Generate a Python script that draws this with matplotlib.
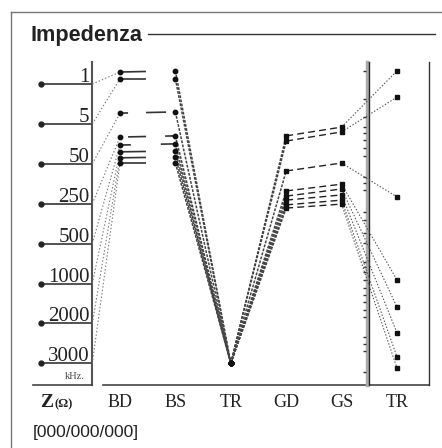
import matplotlib
matplotlib.use('Agg')
import matplotlib.pyplot as plt

plt.rcParams['lines.scale_dashes'] = False

# ---- data (rows: frequency levels; values in "level" units, 0 = "1", 7 = "3000") ----
freq_labels = ["1", "5", "50", "250", "500", "1000", "2000", "3000"]
col_labels = ["BD", "BS", "TR", "GD", "GS", "TR"]
bd = [-0.30, -0.13, 0.73, 1.33, 1.53, 1.70, 1.85, 1.98]
bs = [-0.33, -0.13, 0.70, 1.30, 1.50, 1.68, 1.83, 1.98]
tr = [7.0, 7.0, 7.0, 7.0, 7.0, 7.0, 7.0, 7.0]
gd = [1.30, 1.43, 2.18, 2.68, 2.81, 2.91, 3.03, 3.11]
gs = [1.08, 1.20, 1.98, 2.51, 2.63, 2.78, 2.91, 3.01]
tr2 = [-0.33, 0.33, 2.83, 4.91, 5.59, 6.24, 6.84, 7.12]
right_ticks = [-0.33, 0.38, 0.83, 1.08, 1.23, 1.40, 1.60, 1.80, 2.33, 2.48, 2.66,
               3.21, 3.41, 3.73, 3.98, 4.46, 4.59, 4.71, 4.91, 5.11, 5.29, 5.46,
               5.66, 5.84, 6.34, 6.52, 6.69, 7.22]

# ---- styles ----
bdbs_styles = [(0, (18.7, 20)), (0, (18.7, 20)), (8.6, (14.4, 13)), (20.9, (13, 13.7)),
               (2.2, (10, 21.6)), (0, (18.7, 20)), (0, (18.7, 20)), (0, (18.7, 20))]
SERIF = 'Liberation Serif'
SANS = 'Liberation Sans'

W, H = 442, 448
fig = plt.figure(figsize=(W / 100, H / 100), dpi=100)
ax = fig.add_axes([0, 0, 1, 1])
X0, DX = 120.0, 55.4
Y0, DY = 84.0, 39.9
ax.set_xlim(-X0 / DX, (W - X0) / DX)
ax.set_ylim((H - Y0) / DY, -Y0 / DY)
ax.axis('off')


def px(p):
    return (p - X0) / DX


def py(p):
    return (p - Y0) / DY


# outer frame and title
ax.plot([px(10.5), px(442)], [py(12.5)] * 2, color='#777', lw=1.0)
ax.plot([px(10.5)] * 2, [py(12.5), py(448)], color='#777', lw=1.0)
ax.text(px(30), py(35.5), "Impedenza", fontsize=15.6, fontweight='bold', family=SANS,
        va='center', ha='left', color='#222')
ax.plot([px(148), px(435)], [py(34.5)] * 2, color='#333', lw=1.0)

# left axis
ax.plot([-0.5, -0.5], [py(62), py(384.5)], color='#555', lw=1.5)
ax.hlines(range(len(freq_labels)), px(41), -0.5, color='#444', lw=1.3)
ax.plot([px(41)] * len(freq_labels), range(len(freq_labels)), 'o', color='#222', ms=3.5)
for i, lab in enumerate(freq_labels):
    ax.text(px(89.5), i - 0.05, lab, ha='right', va='baseline', family=SERIF,
            fontsize=15, color='#222')
ax.text(px(85), py(376), "kHz.", ha='right', va='center', family=SERIF, fontsize=7.5,
        color='#444')

# bottom lines
ax.plot([px(33), -0.5], [py(384.5)] * 2, color='#444', lw=1.2)
ax.plot([px(103), px(429)], [py(384.5)] * 2, color='#444', lw=1.2)

# right axis + box
ax.plot([px(367), px(367)], [py(62), py(385)], color='#aaa', lw=2.5)
ax.plot([4.5, 4.5], [py(62), py(385)], color='#222', lw=1.0)
ax.hlines(right_ticks, px(362.5), px(366), color='#333', lw=1.0)
ax.plot([px(429), px(429)], [py(62), py(385)], color='#333', lw=1.0)

# series
n = len(bd)
for i in range(n):
    ax.plot([-0.5, 0], [i, bd[i]], color='#777', lw=0.8, ls=(0, (1, 1.5)))
    ax.plot([0, 1], [bd[i], bs[i]], color='#333', lw=1.2, ls=bdbs_styles[i])
    ax.plot([1, 2], [bs[i], tr[i]], color='#444', lw=1.1, ls=(0, (2, 1.0)))
    ax.plot([2, 3], [tr[i], gd[i]], color='#444', lw=1.1, ls=(0, (2, 1.0)))
    ax.plot([3, 4], [gd[i], gs[i]], color='#222', lw=1.0, ls=(0, (5, 3)))
    ax.plot([4, 5], [gs[i], tr2[i]], color='#555', lw=0.8, ls=(0, (1, 1.3)))

ax.plot([0] * n, bd, 'o', color='#111', ms=3.2)
ax.plot([1] * n, bs, 'o', color='#111', ms=3.2)
ax.plot([2] * n, tr, 'o', color='#111', ms=3.2)
ax.plot([3] * n, gd, 's', color='#111', ms=3.0)
ax.plot([4] * n, gs, 's', color='#111', ms=3.0)
ax.plot([5] * n, tr2, 's', color='#111', ms=3.0)

# x labels
for i, lab in enumerate(col_labels):
    ax.text(i, py(402), lab, ha='center', va='center', family=SERIF, fontsize=13,
            color='#222')
ax.text(px(40), py(402), "Z", ha='left', va='center', family=SERIF, fontsize=14,
        fontweight='bold', color='#222')
ax.text(px(54), py(404), "(\u03a9)", ha='left', va='center', family=SERIF, fontsize=9,
        fontweight='bold', color='#222')
ax.text(px(33), py(432), "[000/000/000]", ha='left', va='center', family=SANS,
        fontsize=12.5, color='#222')

fig.savefig('out.png', dpi=100)
